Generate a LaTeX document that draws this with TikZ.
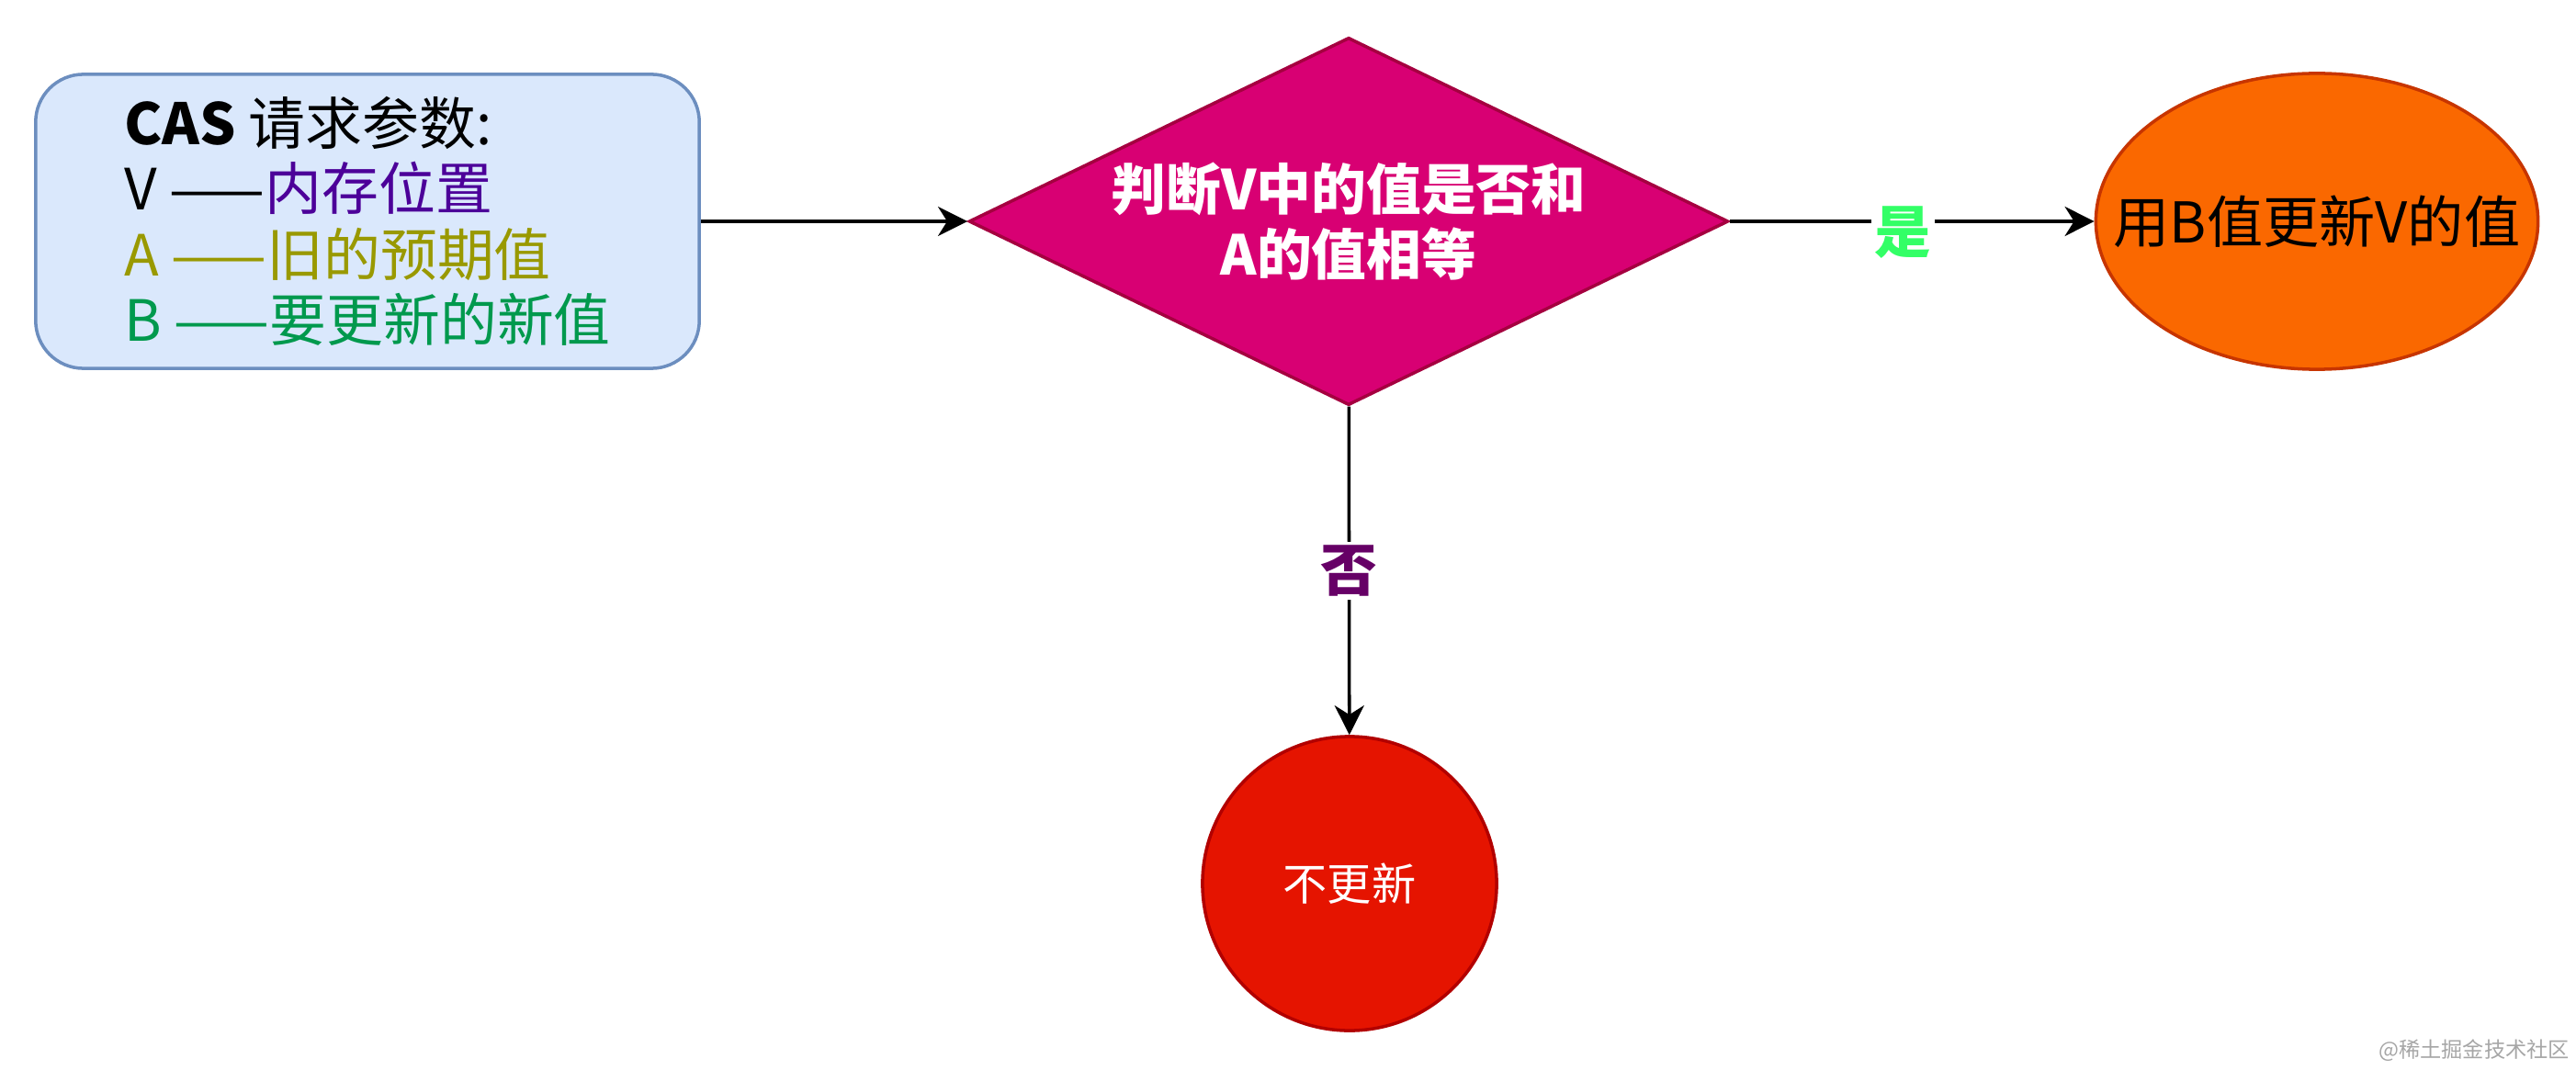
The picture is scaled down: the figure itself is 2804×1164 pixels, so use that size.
\documentclass[tikz,border=0pt]{standalone}
\usepackage{fontspec}
\setmainfont{Noto Sans CJK SC}
\usetikzlibrary{shapes.geometric,arrows.meta}
\definecolor{boxfill}{HTML}{DAE8FC}
\definecolor{boxdraw}{HTML}{6C8EBF}
\definecolor{magfill}{HTML}{D80073}
\definecolor{magdraw}{HTML}{A50040}
\definecolor{orangefill}{HTML}{FA6800}
\definecolor{orangedraw}{HTML}{C73500}
\definecolor{redfill}{HTML}{E51400}
\definecolor{reddraw}{HTML}{B20000}
\definecolor{vpurple}{HTML}{4C0099}
\definecolor{aolive}{HTML}{999900}
\definecolor{bgreen}{HTML}{00994D}
\definecolor{yesgreen}{HTML}{33FF66}
\definecolor{nopurple}{HTML}{660066}

\begin{document}
\begin{tikzpicture}[x=0.01cm, y=-0.01cm, line width=1pt,
		flow/.style={-{Stealth[length=0.32cm, width=0.32cm, inset=0.1cm]}},
		edgelabel/.style={midway, fill=white, inner sep=1pt, font=\bfseries\fontsize{17.5}{20}\selectfont}]
				\useasboundingbox (0,0) rectangle (2804,1164);
				\node[draw=boxdraw, fill=boxfill, rounded corners=0.52cm, minimum width=7.22cm, minimum height=3.2cm, align=left, font=\fontsize{17.6}{20.3}\selectfont] (params) at (400,241) {\textbf{CAS} 请求参数:\\V ——\textcolor{vpurple}{内存位置}\\\textcolor{aolive}{A ——旧的预期值}\\\textcolor{bgreen}{B ——要更新的新值}};
				\node[draw=magdraw, fill=magfill, diamond, aspect=2.07, minimum width=8.26cm, minimum height=4cm, inner sep=0pt, text=white, align=center, font=\bfseries\fontsize{17}{20.4}\selectfont] (check) at (1468,241) {判断V中的值是否和\\A的值相等};
				\node[draw=orangedraw, fill=orangefill, ellipse, minimum width=4.81cm, minimum height=3.22cm, inner sep=0pt, label={[font=\fontsize{17.4}{20}\selectfont]center:{用B值更新V的值}}] (update) at (2522,241) {};
				\node[draw=reddraw, fill=redfill, circle, minimum size=3.2cm, text=white, font=\fontsize{13.7}{16}\selectfont] (keep) at (1469,962) {不更新};
				\draw[flow] (params) -- (check);
				\draw[flow] (check) -- (update) node[edgelabel, text=yesgreen, xshift=-0.1cm, yshift=-0.12cm] {是};
				\draw[flow] (check) -- (keep) node[edgelabel, text=nopurple] {否};
				\node[text=gray!70, font=\fontsize{6.6}{8}\selectfont] (mark) at (2693,1144) {@稀土掘金技术社区};
			\end{tikzpicture}
\end{document}
